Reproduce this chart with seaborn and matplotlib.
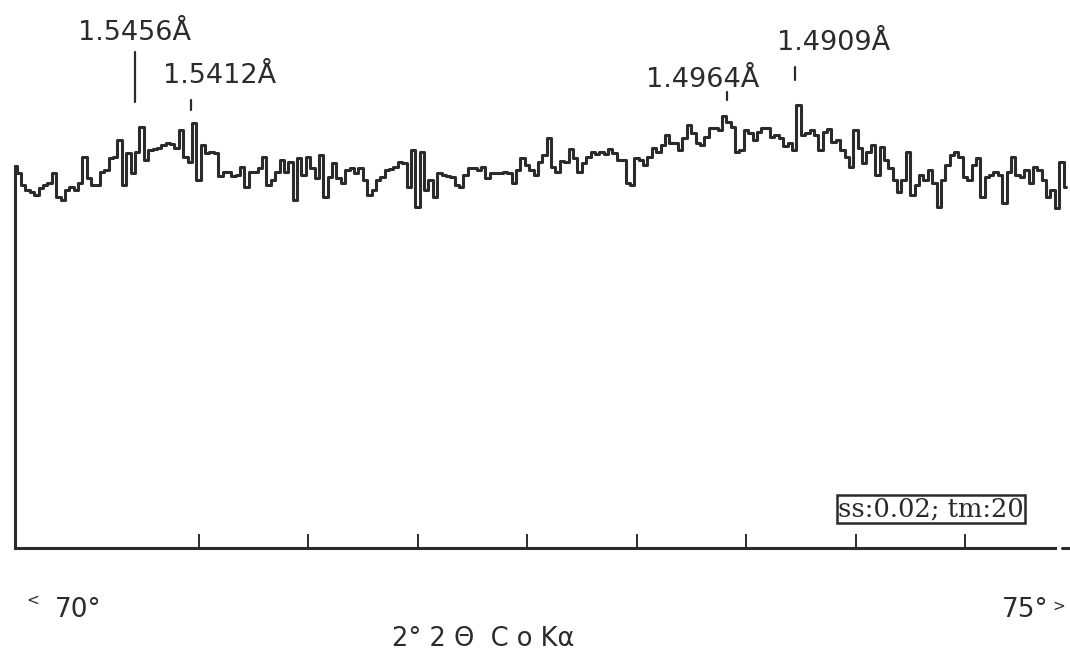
import numpy as np
import pandas as pd
import matplotlib
matplotlib.use("Agg")
import matplotlib.pyplot as plt
import seaborn as sns

# Scan settings: 2-theta start and step (degrees)
two_theta_start = 70.16
two_theta_step = 0.02

# Recorded counts, one per step
counts = [
    382, 375, 363, 358, 356, 353, 360, 363, 365, 375,
    351, 348, 358, 361, 358, 365, 391, 370, 363, 363,
    376, 378, 390, 391, 408, 363, 395, 375, 396, 421,
    388, 398, 399, 400, 403, 405, 404, 400, 418, 391,
    386, 425, 368, 403, 395, 396, 395, 372, 376, 376,
    372, 373, 381, 361, 376, 376, 380, 391, 363, 368,
    376, 388, 376, 386, 348, 390, 373, 391, 380, 370,
    393, 351, 371, 385, 370, 365, 378, 380, 375, 380,
    368, 353, 358, 368, 371, 378, 379, 381, 386, 385,
    361, 398, 341, 396, 358, 368, 351, 375, 373, 372,
    371, 363, 361, 373, 380, 380, 378, 381, 370, 375,
    375, 375, 376, 375, 365, 378, 390, 383, 378, 373,
    386, 393, 410, 381, 376, 387, 386, 399, 390, 376,
    385, 391, 396, 394, 396, 394, 399, 395, 388, 388,
    365, 363, 390, 388, 383, 391, 400, 396, 403, 413,
    405, 405, 398, 410, 423, 415, 405, 403, 411, 420,
    420, 418, 432, 426, 421, 396, 398, 418, 415, 408,
    416, 420, 420, 411, 413, 410, 402, 405, 398, 443,
    413, 415, 418, 413, 398, 416, 419, 406, 408, 398,
    391, 381, 418, 400, 385, 396, 403, 373, 401, 388,
    380, 368, 356, 368, 396, 353, 363, 373, 368, 378,
    365, 341, 368, 383, 393, 396, 391, 371, 368, 383,
    390, 351, 371, 373, 376, 373, 345, 376, 391, 373,
    371, 378, 365, 381, 378, 368, 351, 358, 340, 386,
    361,
]

# Reflection labels: d-spacing text, label position and marker line
d_labels = ["1.5456Å", "1.5412Å", "1.4964Å", "1.4909Å"]
label_x = [70.710, 71.094, 73.304, 73.902]
label_y = [515, 472, 468, 505]
marker_x = [70.710, 70.966, 73.413, 73.724]
marker_y0 = [446, 438, 448, 468]
marker_y1 = [496, 448, 456, 481]

tick_positions = [71.0, 71.5, 72.0, 72.5, 73.0, 73.5, 74.0, 74.5]
range_start_label = "70°"
range_end_label = "75°"
axis_title = "2° 2 Θ  C o Kα"
scan_info = "ss:0.02; tm:20"

two_theta = two_theta_start + two_theta_step * np.arange(len(counts))
df = pd.DataFrame({"two_theta": two_theta, "counts": counts})

sns.set_style("white")
plt.rcParams["font.family"] = ["DejaVu Sans"]

ink = "#2b2b2b"
lw = 2.2
fig = plt.figure(figsize=(10.70, 6.54), dpi=100)
ax = fig.add_axes([12 / 1070, (654 - 548) / 654, 1058 / 1070, 548 / 654])

sns.lineplot(data=df, x="two_theta", y="counts", ax=ax, estimator=None,
             sort=False, color=ink, linewidth=lw, drawstyle="steps-mid")
# rise from the baseline to the first count
ax.plot([two_theta[0], two_theta[0]], [0, counts[0]], color=ink, linewidth=lw)

ax.set_xlim(71 + (12 - 198.5) / 219, 71 + (1070 - 198.5) / 219)
ax.set_ylim(0, 548)

for s in ["top", "right", "left"]:
    ax.spines[s].set_visible(False)
ax.spines["bottom"].set_color(ink)
ax.spines["bottom"].set_linewidth(lw)
ax.spines["bottom"].set_bounds(two_theta[0], 74.91)
# short trailing dash after the axis line
ax.plot([74.945, 74.975], [0, 0], color=ink, linewidth=lw, clip_on=False)

ax.set_xticks(tick_positions)
ax.set_yticks([])
ax.tick_params(axis="x", direction="in", length=10, width=1.4, color=ink,
               labelbottom=False, bottom=True)
ax.set_xlabel("")
ax.set_ylabel("")
ax.grid(False)

for txt, lx, ly in zip(d_labels, label_x, label_y):
    ax.text(lx, ly, txt, ha="center", va="center", fontsize=19.5, color=ink)
for mx, y0, y1 in zip(marker_x, marker_y0, marker_y1):
    ax.plot([mx, mx], [y0, y1], color=ink, linewidth=1.6)

ax.text(1 - (1070 - 931) / 1058, (548 - 509) / 548, scan_info,
        transform=ax.transAxes, ha="center", va="center", fontsize=18.5,
        family="DejaVu Serif", color=ink,
        bbox=dict(boxstyle="square,pad=0.06", facecolor="white",
                  edgecolor=ink, linewidth=1.8))

fig.text(33 / 1070, 1 - 600 / 654, "<", ha="center", va="center",
         fontsize=11, color=ink)
fig.text(78 / 1070, 1 - 610 / 654, range_start_label, ha="center",
         va="center", fontsize=19, color=ink)
fig.text(1025 / 1070, 1 - 610 / 654, range_end_label, ha="center",
         va="center", fontsize=19, color=ink)
fig.text(1059 / 1070, 1 - 606 / 654, ">", ha="center", va="center",
         fontsize=11, color=ink)
fig.text(483 / 1070, 1 - 639 / 654, axis_title, ha="center", va="center",
         fontsize=18.5, color=ink)

fig.savefig("out.png", dpi=100, facecolor="white")
